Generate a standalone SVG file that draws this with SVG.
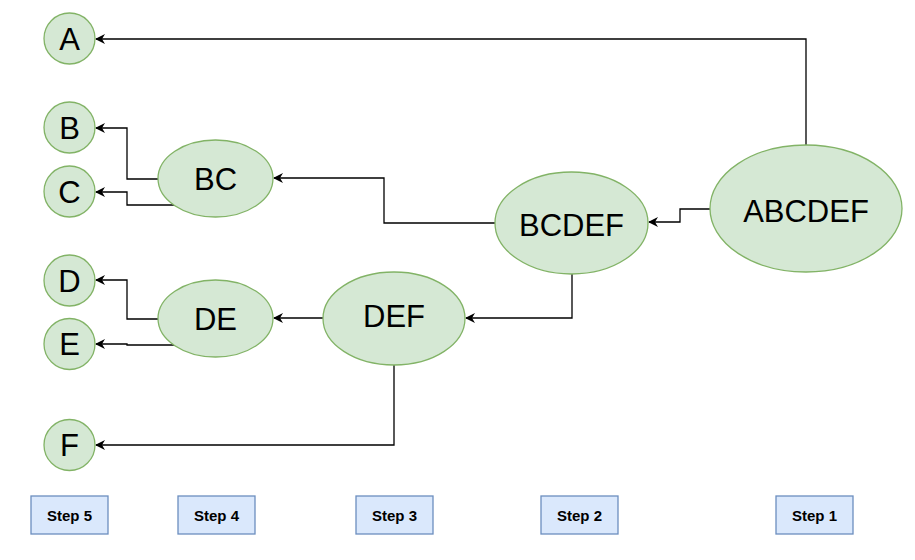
<svg xmlns="http://www.w3.org/2000/svg" width="915" height="560" viewBox="0 0 915 560">
<style>
.node{fill:#d5e8d4;stroke:#82b366;stroke-width:1.3}
.lbl{font-family:"Liberation Sans",Arial,sans-serif;font-size:31px;fill:#000;text-anchor:middle}
.step{fill:#dae8fc;stroke:#6c8ebf;stroke-width:1.3}
.stxt{font-family:"Liberation Sans",Arial,sans-serif;font-size:15px;font-weight:bold;fill:#000;text-anchor:middle}
.edge{fill:none;stroke:#000;stroke-width:1.3}
</style>
<defs>
<marker id="arr" viewBox="0 0 10 10" refX="9" refY="5" markerWidth="10" markerHeight="10" markerUnits="userSpaceOnUse" orient="auto">
<path d="M0,0 L10,5 L0,10 L3,5 Z" fill="#000"/>
</marker>
</defs>
<rect width="915" height="560" fill="#fff"/>
<g id="connectors">
<path class="edge" marker-end="url(#arr)" d="M806,145 V39 H96"/>
<path class="edge" marker-end="url(#arr)" d="M710,209 H680 V222 H649"/>
<path class="edge" marker-end="url(#arr)" d="M495,223 H384 V178 H274"/>
<path class="edge" marker-end="url(#arr)" d="M572,274 V318 H466"/>
<path class="edge" marker-end="url(#arr)" d="M323,318 H274"/>
<path class="edge" marker-end="url(#arr)" d="M394,365 V445 H96"/>
<path class="edge" marker-end="url(#arr)" d="M158,179 H127 V128 H96"/>
<path class="edge" marker-end="url(#arr)" d="M175,205 H127 V192 H96"/>
<path class="edge" marker-end="url(#arr)" d="M158,319 H127 V280 H96"/>
<path class="edge" marker-end="url(#arr)" d="M175,345 H127 V344 H96"/>
</g>
<g id="A"><circle class="node" cx="69.5" cy="38.5" r="25.5"/><text class="lbl" x="69.5" y="50">A</text></g>
<g id="B"><circle class="node" cx="69.5" cy="127.5" r="25.5"/><text class="lbl" x="69.5" y="139">B</text></g>
<g id="C"><circle class="node" cx="69.5" cy="191.5" r="25.5"/><text class="lbl" x="69.5" y="203">C</text></g>
<g id="D"><circle class="node" cx="69.5" cy="280.5" r="25.5"/><text class="lbl" x="69.5" y="292">D</text></g>
<g id="E"><circle class="node" cx="69.5" cy="344" r="25.5"/><text class="lbl" x="69.5" y="355">E</text></g>
<g id="F"><circle class="node" cx="69.5" cy="445" r="25.5"/><text class="lbl" x="69.5" y="456">F</text></g>
<g id="BC"><ellipse class="node" cx="215.5" cy="178.5" rx="57.5" ry="38.5"/><text class="lbl" x="215.5" y="190">BC</text></g>
<g id="DE"><ellipse class="node" cx="215.5" cy="318.5" rx="57.5" ry="38.5"/><text class="lbl" x="215.5" y="330">DE</text></g>
<g id="DEF"><ellipse class="node" cx="394" cy="318.5" rx="71" ry="46.5"/><text class="lbl" x="394" y="327">DEF</text></g>
<g id="BCDEF"><ellipse class="node" cx="571.5" cy="223" rx="76.5" ry="51"/><text class="lbl" x="571.5" y="236">BCDEF</text></g>
<g id="ABCDEF"><ellipse class="node" cx="806" cy="208.5" rx="96" ry="63.5"/><text class="lbl" x="806" y="222">ABCDEF</text></g>
<g id="step5"><rect class="step" x="31" y="496" width="77" height="38"/><text class="stxt" x="69.5" y="520.5">Step 5</text></g>
<g id="step4"><rect class="step" x="178" y="496" width="77" height="38"/><text class="stxt" x="216.5" y="520.5">Step 4</text></g>
<g id="step3"><rect class="step" x="356" y="496" width="77" height="38"/><text class="stxt" x="394.5" y="520.5">Step 3</text></g>
<g id="step2"><rect class="step" x="541" y="496" width="77" height="38"/><text class="stxt" x="579.5" y="520.5">Step 2</text></g>
<g id="step1"><rect class="step" x="776" y="496" width="77" height="38"/><text class="stxt" x="814.5" y="520.5">Step 1</text></g>
</svg>
